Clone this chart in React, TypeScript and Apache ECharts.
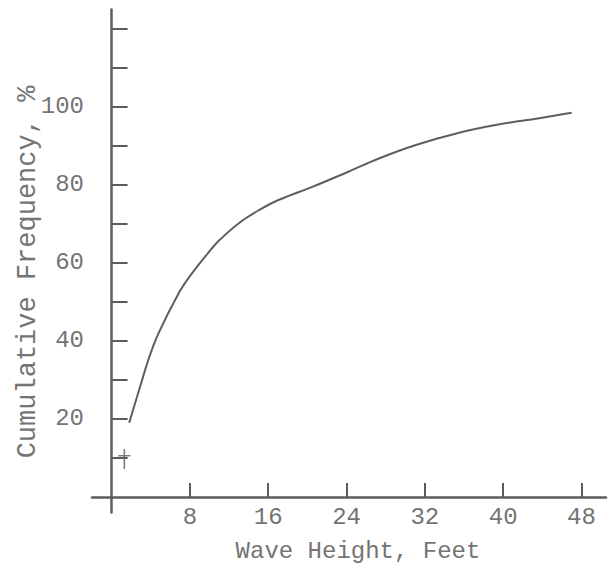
import React, { useEffect, useRef } from "react";
import * as echarts from "echarts";

const waveHeight = [1.8, 3, 3.8, 4.8, 6.8, 8, 10, 11, 13, 15.1, 17.1, 20.5, 24, 27.3, 31, 35.5, 39.5, 43.7, 47];
const cumFreq = [19, 29, 35.5, 42, 52, 56.6, 63, 65.8, 70.2, 73.6, 76.2, 79.5, 83.2, 86.8, 90.2, 93.4, 95.5, 97.1, 98.5];
const crossPoint = [[1.2, 10]];
const xTicks = [8, 16, 24, 32, 40, 48];
const yTicks = [10, 20, 30, 40, 50, 60, 70, 80, 90, 100, 110, 120];
const yLabels = [20, 40, 60, 80, 100];

const FONT = "Liberation Mono";
const TEXT = "#747474";
const LINE = "#5c5c5c";

export default function App() {
  const ref = useRef<HTMLDivElement>(null);
  useEffect(() => {
    if (!ref.current) return;
    const chart = echarts.init(ref.current, null, { renderer: "svg" });
    const crossPath =
      "path://M0,6 L12,6 L12,7.6 L6.8,7.6 L6.8,20 L5.2,20 L5.2,7.6 L0,7.6 Z M5.2,0 L6.8,0 L6.8,6 L5.2,6 Z";
    chart.setOption({
      animation: false,
      backgroundColor: "#ffffff",
      grid: { left: 92, right: 4, top: 9.5, bottom: 55.5, containLabel: false, outerBoundsMode: "none" },
      xAxis: {
        type: "value",
        min: -2,
        max: 50.5,
        name: "Wave Height, Feet",
        nameLocation: "middle",
        nameGap: 27,
        nameTextStyle: { fontFamily: FONT, fontSize: 24, color: TEXT, padding: [0, 0, 0, 18] },
        axisLine: { show: true, onZero: true, lineStyle: { color: LINE, width: 2.5 } },
        axisTick: { show: true, inside: true, length: 14, customValues: xTicks, lineStyle: { color: LINE, width: 2 } },
        axisLabel: { show: true, customValues: xTicks, margin: -7, fontFamily: FONT, fontSize: 24, color: TEXT },
        splitLine: { show: false },
      },
      yAxis: {
        type: "value",
        min: -4,
        max: 125,
        name: "Cumulative Frequency, %",
        nameLocation: "middle",
        nameGap: 51,
        nameMoveOverlap: false,
        nameTextStyle: { fontFamily: FONT, fontSize: 27, color: TEXT, padding: [0, 22, 0, 0] },
        axisLine: { show: true, onZero: true, lineStyle: { color: LINE, width: 2.5 } },
        axisTick: { show: true, inside: true, length: 16, customValues: yTicks, lineStyle: { color: LINE, width: 2 } },
        axisLabel: {
          show: true,
          customValues: yLabels,
          margin: 8,
          padding: [0, 0, 12, 0],
          fontFamily: FONT,
          fontSize: 24,
          color: TEXT,
        },
        splitLine: { show: false },
      },
      series: [
        {
          type: "line",
          data: waveHeight.map((x, i) => [x, cumFreq[i]]),
          smooth: 0.4,
          showSymbol: false,
          lineStyle: { color: "#5e5e5e", width: 2 },
        },
        {
          type: "scatter",
          data: crossPoint,
          symbol: crossPath,
          symbolSize: [12, 20],
          symbolOffset: [1, 1],
          itemStyle: { color: LINE },
        },
      ],
    });
    return () => chart.dispose();
  }, []);
  return <div ref={ref} style={{ position: "fixed", left: 0, top: 0, width: 610, height: 568 }} />;
}
